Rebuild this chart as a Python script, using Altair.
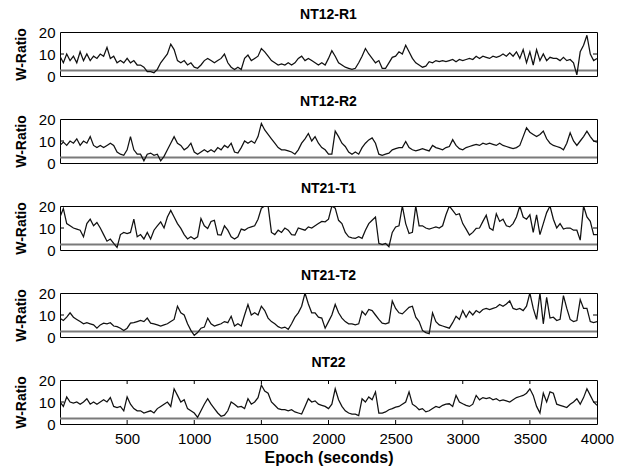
import altair as alt
import pandas as pd

# ---- data (25-second steps) ----
epochs = list(range(0, 4001, 25))
titles = ["NT12-R1", "NT12-R2", "NT21-T1", "NT21-T2", "NT22"]
threshold = 2.5
x_tick_values = [500, 1000, 1500, 2000, 2500, 3000, 3500, 4000]
y_tick_values = [0, 10, 20]

nt12_r1 = [
    9, 6, 10, 7, 9, 6, 11, 7, 10, 7, 9, 8, 10, 9, 13, 8, 9, 6, 7, 6,
    8, 6, 7, 5, 5, 4, 2, 2, 1.5, 3, 6, 8, 10, 14.5, 12, 7, 6, 7, 5, 6,
    4, 3.5, 5, 7, 8, 7, 6, 7, 8, 10, 6, 4, 3, 4, 3, 8, 9.5, 7, 8, 9,
    12.5, 11, 9, 7, 6, 5, 5.5, 5, 6, 5, 6, 8, 9, 7, 8, 7, 6, 5, 6, 5,
    8, 11.5, 9, 6, 5, 4, 3.5, 3, 3.5, 6, 9, 12.5, 10, 8, 6, 7, 3.5, 3.5, 6, 8.5,
    9, 11, 10, 14, 11, 8, 6, 5, 4, 4.5, 6.5, 6, 7, 6.5, 7, 6.5, 7, 7.5, 6.5, 7.5,
    7, 7.5, 8, 7.5, 9, 8, 9, 8.5, 8, 9, 8.5, 9, 10, 9, 10.5, 9, 11, 8, 12, 6,
    11, 5, 12, 7, 10, 7, 8.5, 8, 8, 7, 8.5, 7, 7.5, 6, 0.5, 11, 14, 18.5, 10, 7,
    8,
]
nt12_r2 = [
    8, 9.5, 8, 10, 9, 11, 8, 10, 9, 12, 8, 7, 8, 7, 8, 9, 8, 5, 4, 3.5,
    6, 12, 6, 4, 4, 1, 4, 4.5, 3.5, 4, 1, 3, 6, 9, 12, 9, 8, 6, 7, 9,
    5, 4, 5, 6, 5, 6, 5, 7, 6, 8, 7, 9, 5, 4.5, 7, 10, 9, 10, 9, 12,
    18, 15, 13, 11, 9, 7, 6, 6, 5.5, 5, 4, 6, 9, 11, 13.4, 10, 12, 9, 7, 6,
    4, 4, 14.5, 12, 9, 7.5, 5, 4, 5, 4, 7, 9, 10.5, 11.4, 9, 4, 3.5, 4, 4.5, 6,
    6.5, 7, 7, 9.8, 7, 6, 5.5, 6, 6.5, 6, 5.5, 8, 7, 6.5, 6, 7, 7.5, 10.6, 8, 6.5,
    6, 7, 7.5, 8, 8.5, 8, 9, 8.5, 9, 8.5, 8, 9, 8, 7.5, 7, 6.5, 7, 8, 12, 16,
    14, 13, 12, 13, 14.5, 11, 9, 8, 7.5, 7, 6, 9, 13.7, 10, 8, 10, 12, 14.5, 12, 10,
    9.5,
]
nt21_t1 = [
    15, 18.8, 12, 11, 10, 9.5, 9, 6, 12, 14, 11, 12.5, 10, 7, 4, 5, 3, 1.2, 7, 8,
    7.5, 8, 14, 6, 7, 5, 8, 5, 9, 11, 12.8, 10, 15, 18, 15, 12, 9.8, 7, 5, 6,
    5, 6, 14.3, 11, 9.8, 13, 13.5, 7, 6.8, 11, 9, 6, 5, 6, 9.5, 9, 10, 10.5, 11, 14,
    19, 20, 20, 8, 7, 9, 8, 10, 9, 7, 6.8, 10, 9.5, 9, 10.5, 10, 11, 12, 13, 12.8,
    14, 20, 19, 13.5, 12, 8, 6, 5.5, 5.3, 6, 5.3, 9, 12, 13.5, 15, 3, 2.5, 3, 1.5, 8,
    10.5, 11, 20, 12, 7.5, 8, 20, 11, 11, 10, 9.5, 10, 10.5, 10, 11, 16, 20, 18, 16, 16.5,
    12, 9.5, 6.8, 8, 9.8, 10, 13, 15.8, 10, 9, 16.5, 13, 14, 11, 10.5, 12, 15, 20, 15, 14,
    16, 8, 16, 7, 12, 17, 20, 14, 10, 12, 9.5, 10, 10, 9, 9, 4.5, 20, 15, 13, 7,
    7,
]
nt21_t2 = [
    8.5, 7.5, 9, 11, 9, 8, 7, 6, 6.5, 6, 5.5, 4, 5.5, 6.3, 6, 6.5, 5, 4.7, 4, 3,
    4, 6.3, 6.5, 7, 7.5, 7, 8.6, 6.3, 6, 5.5, 5, 5.5, 6, 7, 8, 14, 11, 10, 6, 3,
    0.8, 2, 4, 4.5, 8.6, 6, 5, 5.5, 6, 7, 6.5, 9.4, 5, 6, 5, 10, 14.8, 10, 11, 10,
    14, 12, 8.6, 7, 6, 4.7, 4, 4.5, 3.5, 6, 9, 11, 14, 20, 15, 11, 11, 9, 8.6, 4,
    7, 10, 14.8, 11, 8.6, 7, 6, 6, 5.5, 6, 11.7, 10, 12.5, 12, 10, 8, 6.3, 6, 6.5, 16.4,
    13, 11, 10.5, 12, 13.5, 14, 9, 7, 3, 2, 1.5, 11, 7, 5.5, 5, 4.5, 4, 6.5, 9.4, 8,
    12, 9, 11.7, 10, 12, 11, 12.5, 13, 12.5, 13, 13.5, 14.8, 14, 15, 16.4, 13, 12.5, 13, 12, 14,
    20, 13, 8, 20, 6, 18, 8.6, 9, 7.5, 8, 18.8, 13, 8, 7, 7.5, 17, 13, 13, 7, 6.5,
    7,
]
nt22 = [
    10, 8, 12.3, 10, 9.5, 10, 9, 10, 11.5, 9, 10, 9, 10, 11, 10, 12, 8, 7.5, 8, 6,
    12.3, 9, 7, 6, 6, 5, 5.5, 6, 5, 7, 8, 9, 10, 8, 16, 13, 10, 11, 7, 6,
    5, 3, 6, 9, 11.5, 9, 7, 5, 3.5, 4, 6, 10, 9, 7.7, 8, 7, 11.5, 9, 10, 12,
    17.7, 15, 14, 10, 8.5, 7, 6.5, 6.5, 6, 6.5, 5.5, 5, 4.5, 8, 11.5, 10, 10.5, 9, 8.5, 8,
    7, 9, 16, 11, 8, 6, 5, 4.5, 4.5, 3.8, 11.5, 10, 12.3, 11, 14.6, 5, 5, 5.5, 6.5, 7,
    7.7, 8, 9, 10, 14.6, 9, 8, 6.5, 7, 5.5, 6, 7, 8, 7.5, 8.5, 9, 9.2, 8, 13, 10,
    9.2, 8.5, 8, 9, 13, 11, 12, 11.5, 12, 11, 11.5, 10.5, 11, 10.5, 10, 11, 12, 12.5, 13, 14,
    16, 13, 8, 5, 14, 10, 14.6, 14, 9, 8.5, 8, 7.5, 9, 10, 11.5, 9, 12, 16, 13, 10,
    8.5,
]
series = [nt12_r1, nt12_r2, nt21_t1, nt21_t2, nt22]

W, H = 537, 44
FONT = "Liberation Sans"

y_scale = alt.Scale(domain=[0, 20], nice=False, zero=False)
x_scale = alt.Scale(domain=[0, 4000], nice=False, zero=False)
y_axis = alt.Axis(values=y_tick_values, title="W-Ratio", titleFontWeight="bold",
                  titleFontSize=14, titleFont=FONT, titlePadding=10,
                  labelFontSize=15, labelFont=FONT, labelPadding=5, format="d",
                  ticks=False, tickSize=0, domain=False, grid=False,
                  labelColor="black", titleColor="black")


def panel(title, values, bottom):
    df = pd.DataFrame({"epoch": epochs, "w": values})
    if bottom:
        x_axis = alt.Axis(values=x_tick_values, title="Epoch (seconds)", format="d",
                          titleFontWeight="bold", titleFontSize=16, titleFont=FONT,
                          titlePadding=3, labelFontSize=15, labelFont=FONT,
                          labelPadding=7, labelFlush=False, ticks=False, tickSize=0,
                          domain=False, grid=False, labelColor="black",
                          titleColor="black")
    else:
        x_axis = None
    X = alt.X("epoch:Q", scale=x_scale, axis=x_axis)
    Y = alt.Y("w:Q", scale=y_scale, axis=y_axis)

    line = alt.Chart(df).mark_line(color="#111111", strokeWidth=1.25, clip=True).encode(x=X, y=Y)
    thr = alt.Chart(pd.DataFrame({"w": [threshold]})).mark_rule(
        color="#7a7a7a", strokeWidth=2).encode(y=Y)
    ytk = pd.DataFrame({"w": [10]})
    ytick_l = alt.Chart(ytk).mark_rule(color="black").encode(
        y=Y, x=alt.value(0), x2=alt.value(4))
    ytick_r = alt.Chart(ytk).mark_rule(color="black").encode(
        y=Y, x=alt.value(W - 4), x2=alt.value(W))
    layers = [thr, line, ytick_l, ytick_r]
    if bottom:
        xtk = pd.DataFrame({"epoch": x_tick_values[:-1]})
        xb = alt.Chart(xtk).mark_rule(color="black").encode(
            x=X, y=alt.value(H), y2=alt.value(H - 4))
        xt = alt.Chart(xtk).mark_rule(color="black").encode(
            x=X, y=alt.value(0), y2=alt.value(4))
        layers += [xb, xt]
    return alt.layer(*layers).properties(
        width=W, height=H,
        title=alt.TitleParams(title, fontSize=14, font=FONT, fontWeight="bold",
                              offset=3, anchor="middle", color="black"))


panels = [panel(t, s, i == len(titles) - 1) for i, (t, s) in enumerate(zip(titles, series))]

chart = alt.vconcat(*panels, spacing=9).properties(
    padding={"left": 13, "top": 7, "right": 8, "bottom": 5},
    background="white",
).configure_view(stroke="black", strokeWidth=1)

chart.save("out.html", embed_options={"renderer": "svg", "actions": False})
